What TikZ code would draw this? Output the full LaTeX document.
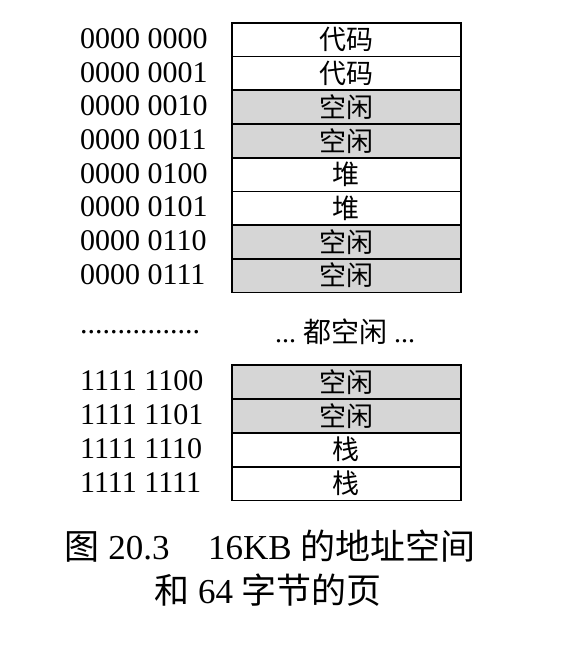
\documentclass[tikz,border=0pt]{standalone}
\usepackage{fontspec}
\setmainfont{Liberation Serif}
\newfontfamily\cjk{Noto Sans CJK SC}
\definecolor{freegray}{RGB}{214,214,214}
\begin{document}
\begin{tikzpicture}[x=1pt,y=-1pt,
  cell/.style={draw, line width=1.7pt, minimum width=229pt, minimum height=33.7pt,
    inner sep=0pt, anchor=north west, font=\fontsize{27}{27}\cjk},
  usedcell/.style={cell, fill=white},
  freecell/.style={cell, fill=freegray},
  addr/.style={anchor=west, inner sep=0pt, font=\fontsize{30}{30}\selectfont},
  caption/.style={inner sep=0pt, font=\fontsize{35}{35}\selectfont},
]
\useasboundingbox (0,0) rectangle (566,649);

% lower addresses of the page table
\foreach \i/\a/\t/\s in {0/0000 0000/代码/usedcell, 1/0000 0001/代码/usedcell,
    2/0000 0010/空闲/freecell, 3/0000 0011/空闲/freecell,
    4/0000 0100/堆/usedcell, 5/0000 0101/堆/usedcell,
    6/0000 0110/空闲/freecell, 7/0000 0111/空闲/freecell} {
  \node[\s] (r\i) at (231, {22+33.7*\i}) {\t};
  \node[addr] (a\i) at (80, {22+33.7*\i+16.5}) {\a};
}

% gap marker
\node[addr] (adots) at (80, 332) {................};
\node[inner sep=0pt, font=\fontsize{28}{28}\selectfont] (gap) at (345, 332)
  {...\ {\cjk 都空闲} ...};

% upper addresses
\foreach \i/\a/\t/\s in {0/1111 1100/空闲/freecell, 1/1111 1101/空闲/freecell,
    2/1111 1110/栈/usedcell, 3/1111 1111/栈/usedcell} {
  \node[\s] (s\i) at (231, {364+34*\i}) {\t};
  \node[addr] (b\i) at (80, {364+34*\i+16.5}) {\a};
}

% caption
\node[caption] (cap1) at (270, 546)
  {{\cjk 图} 20.3\hspace{1.1em}16KB {\cjk 的地址空间}};
\node[caption] (cap2) at (268, 590) {{\cjk 和} 64 {\cjk 字节的页}};
\end{tikzpicture}
\end{document}
